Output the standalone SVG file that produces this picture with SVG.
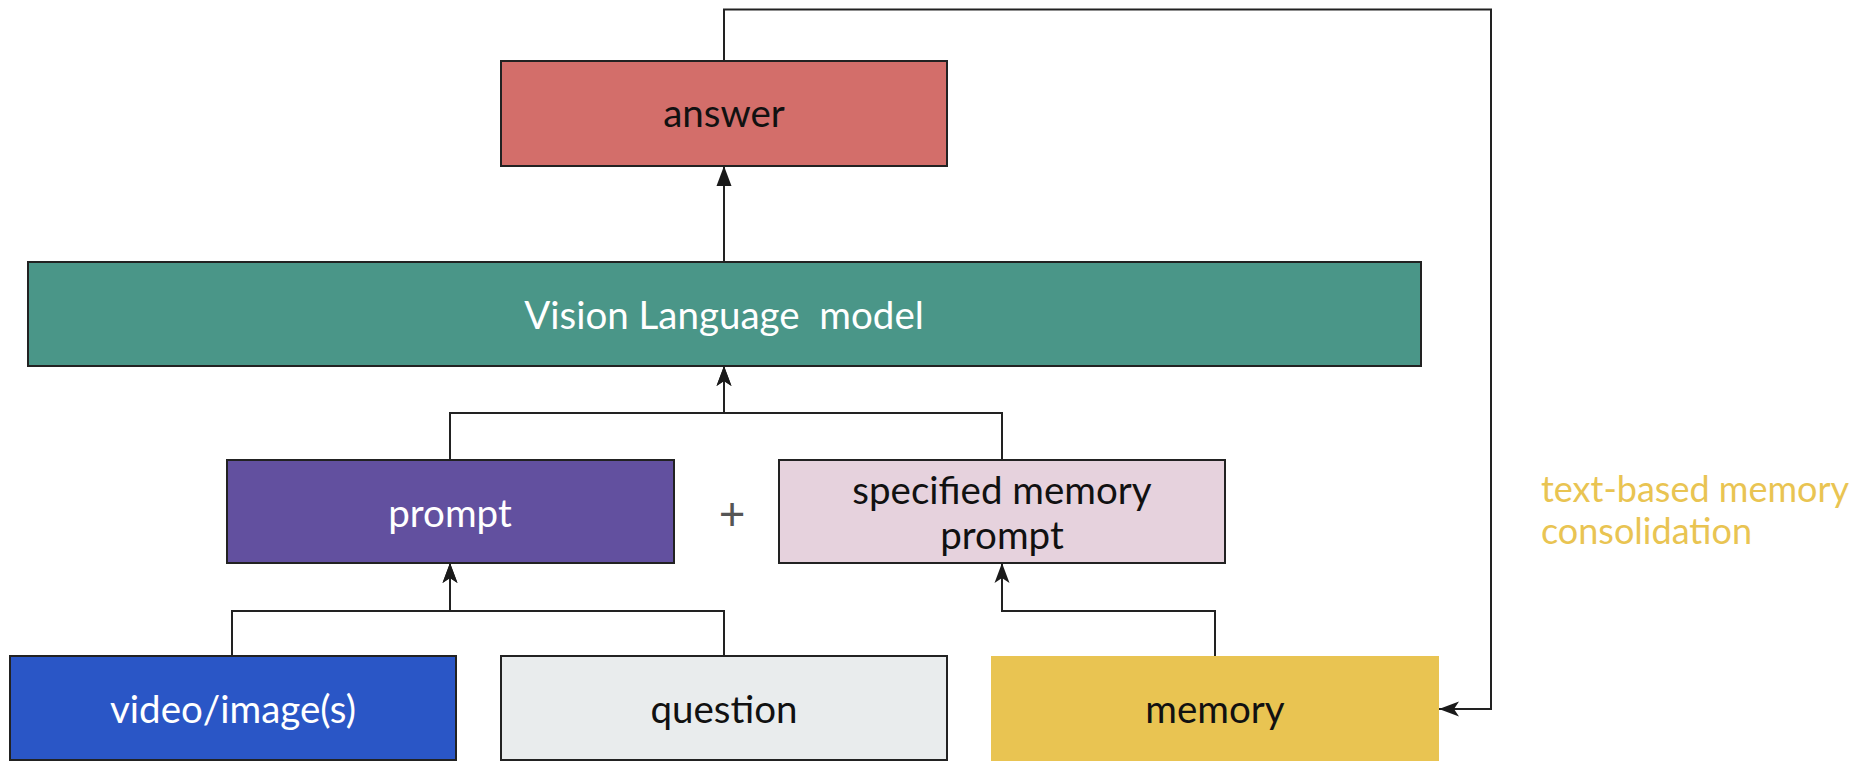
<svg xmlns="http://www.w3.org/2000/svg" width="1868" height="770" viewBox="0 0 1868 770">
<style>
.box{stroke:#222;stroke-width:2}
.lbl{font-family:Lato,"Open Sans","Liberation Sans",sans-serif;font-size:38.5px;text-anchor:middle}
.conn{fill:none;stroke:#222;stroke-width:2}
.note{font-family:Lato,"Open Sans","Liberation Sans",sans-serif;font-size:36px;fill:#E9C452}
</style>
<defs>
<marker id="stealth" markerUnits="userSpaceOnUse" viewBox="0 -8 21 16" refX="20" refY="0" markerWidth="21" markerHeight="16" orient="auto">
<path d="M20,0 L0,-7.5 L5,0 L0,7.5 Z" fill="#1a1a1a"/>
</marker>
<marker id="tri" markerUnits="userSpaceOnUse" viewBox="0 -8 21 16" refX="20" refY="0" markerWidth="21" markerHeight="16" orient="auto">
<path d="M20,0 L0,-7.5 L0,7.5 Z" fill="#1a1a1a"/>
</marker>
</defs>
<rect width="1868" height="770" fill="#fff"/>
<g id="connectors">
<path class="conn" d="M724,262 V166" marker-end="url(#tri)"/>
<path class="conn" d="M724,61 V9.5 H1491 V709 H1439" marker-end="url(#stealth)"/>
<path class="conn" d="M450,460 V413 H724 V366" marker-end="url(#stealth)"/>
<path class="conn" d="M1002,460 V413 H724 V366" marker-end="url(#stealth)"/>
<path class="conn" d="M232,656 V611 H450 V563" marker-end="url(#stealth)"/>
<path class="conn" d="M724,656 V611 H450 V563" marker-end="url(#stealth)"/>
<path class="conn" d="M1215,656 V611 H1002 V563" marker-end="url(#stealth)"/>
</g>
<g id="answer">
<rect class="box" x="501" y="61" width="446" height="105" fill="#D36E6A"/>
<text class="lbl" x="724" y="127" fill="#111">answer</text>
</g>
<g id="vlm">
<rect class="box" x="28" y="262" width="1393" height="104" fill="#4A9688"/>
<text class="lbl" x="724" y="329" fill="#fff" xml:space="preserve">Vision Language  model</text>
</g>
<g id="prompt">
<rect class="box" x="227" y="460" width="447" height="103" fill="#62509F"/>
<text class="lbl" x="450" y="527" fill="#fff">prompt</text>
</g>
<g id="plus">
<text x="732" y="530" font-family="Lato,'Liberation Sans',sans-serif" font-size="46" fill="#555" text-anchor="middle">+</text>
</g>
<g id="specified-memory-prompt">
<rect class="box" x="779" y="460" width="446" height="103" fill="#E6D2DD"/>
<text class="lbl" x="1002" y="504" fill="#111">specified memory</text>
<text class="lbl" x="1002" y="549" fill="#111">prompt</text>
</g>
<g id="video">
<rect class="box" x="10" y="656" width="446" height="104" fill="#2A56C6"/>
<text class="lbl" x="233" y="723" fill="#fff">video/image(s)</text>
</g>
<g id="question">
<rect class="box" x="501" y="656" width="446" height="104" fill="#E9ECED"/>
<text class="lbl" x="724" y="723" fill="#111">question</text>
</g>
<g id="memory">
<rect x="991" y="656" width="448" height="105" fill="#E9C452"/>
<text class="lbl" x="1215" y="723" fill="#111">memory</text>
</g>
<g id="consolidation-label">
<text class="note" x="1541" y="502">text-based memory</text>
<text class="note" x="1541" y="544">consolidation</text>
</g>
</svg>
